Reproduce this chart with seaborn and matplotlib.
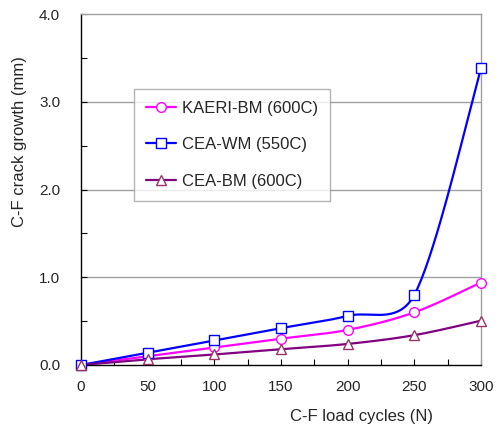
import numpy as np
import pandas as pd
import matplotlib
matplotlib.use("Agg")
import matplotlib.pyplot as plt
import seaborn as sns
from matplotlib.lines import Line2D
from matplotlib.ticker import MultipleLocator, FormatStrFormatter

# -----------------------------
# Data
# -----------------------------
cycles = [0, 50, 100, 150, 200, 250, 300]
kaeri_bm = [0.0, 0.10, 0.20, 0.30, 0.40, 0.60, 0.94]
cea_wm = [0.0, 0.14, 0.28, 0.42, 0.56, 0.80, 3.38]
cea_bm = [0.0, 0.065, 0.12, 0.18, 0.24, 0.34, 0.505]

series_names = ["KAERI-BM (600C)", "CEA-WM (550C)", "CEA-BM (600C)"]
series_values = [kaeri_bm, cea_wm, cea_bm]

line_colors = ["#FF00FF", "#0000FF", "#800080"]
marker_edges = ["#FF00FF", "#0000FF", "#993366"]
marker_shapes = ["o", "s", "^"]

# pixel scale of the plot area (for the spreadsheet-style smoothing)
PX_X = 400 / 300
PX_Y = 351 / 4


def smooth(xs, ys, n=40):
    # spreadsheet style smoothed line: cubic Bezier, control arms 1/6 of the
    # neighbour chord, capped to half the segment (distances in pixels)
    p = np.column_stack([np.asarray(xs, float) * PX_X, np.asarray(ys, float) * PX_Y])
    p = np.vstack([p[0], p, p[-1]])
    t = np.linspace(0, 1, n)[:, None]
    out = []
    for i in range(1, len(p) - 2):
        p0, p1, p2, p3 = p[i - 1], p[i], p[i + 1], p[i + 2]
        d12 = np.linalg.norm(p2 - p1)
        d02 = np.linalg.norm(p2 - p0)
        d13 = np.linalg.norm(p3 - p1)
        f1 = 1 / 6 if d02 / 6 <= d12 / 2 else d12 / (2 * d02)
        f2 = 1 / 6 if d13 / 6 <= d12 / 2 else d12 / (2 * d13)
        c1 = p1 + f1 * (p2 - p0)
        c2 = p2 - f2 * (p3 - p1)
        seg = ((1 - t) ** 3) * p1 + 3 * ((1 - t) ** 2) * t * c1 + 3 * (1 - t) * t**2 * c2 + t**3 * p2
        out.append(seg)
    out = np.vstack(out)
    return out[:, 0] / PX_X, out[:, 1] / PX_Y


sns.set_style("white")
plt.rcParams["font.family"] = ["Liberation Sans", "DejaVu Sans"]

fig = plt.figure(figsize=(4.99, 4.28), dpi=100)
ax = fig.add_axes([81 / 499, 1 - 365 / 428, 400 / 499, 351 / 428])

for y in [1, 2, 3]:
    ax.axhline(y, color="#A0A0A0", lw=1.0, zorder=0)

handles = []
for name, vals, lc, me, mk in zip(series_names, series_values, line_colors, marker_edges, marker_shapes):
    sx, sy = smooth(cycles, vals)
    sns.lineplot(x=sx, y=sy, ax=ax, color=lc, lw=1.6, sort=False, estimator=None, zorder=2)
    df = pd.DataFrame({"N": cycles, "crack": vals})
    ax.plot(df["N"], df["crack"], linestyle="none", marker=mk, markersize=7,
            markerfacecolor="white", markeredgecolor=me, markeredgewidth=1.0,
            clip_on=False, zorder=3)
    handles.append(Line2D([0], [0], color=lc, lw=1.6, marker=mk, markersize=7,
                          markerfacecolor="white", markeredgecolor=me, markeredgewidth=1.0))

ax.set_xlim(0, 300)
ax.set_ylim(0, 4)
ax.xaxis.set_major_locator(MultipleLocator(50))
ax.xaxis.set_minor_locator(MultipleLocator(25))
ax.yaxis.set_major_locator(MultipleLocator(1))
ax.yaxis.set_minor_locator(MultipleLocator(0.5))
ax.yaxis.set_major_formatter(FormatStrFormatter("%.1f"))
ax.tick_params(axis="both", which="both", direction="in", length=4, width=0.8,
               color="black", labelsize=11)
ax.tick_params(axis="x", which="both", bottom=True, pad=11)
ax.tick_params(axis="y", which="both", left=True, pad=15)

for side in ["left", "bottom"]:
    ax.spines[side].set_color("black")
    ax.spines[side].set_linewidth(1.0)
for side in ["top", "right"]:
    ax.spines[side].set_color("#A0A0A0")
    ax.spines[side].set_linewidth(1.0)

ax.set_xlabel("C-F load cycles (N)", fontsize=12, va="center")
ax.xaxis.set_label_coords((361 - 81) / 400, (365 - 416) / 351)
ax.set_ylabel("C-F crack growth (mm)", fontsize=12, va="center")
ax.yaxis.set_label_coords((20 - 81) / 400, (365 - 142) / 351)

leg = ax.legend(handles, series_names, loc="upper left", bbox_to_anchor=(53 / 400, (365 - 89) / 351),
                borderaxespad=0, frameon=True, fancybox=False, fontsize=12, handlelength=1.8,
                labelspacing=1.3, borderpad=0.7, handletextpad=0.4)
leg.get_frame().set_edgecolor("#A0A0A0")
leg.get_frame().set_linewidth(1.0)

fig.savefig("out.png", dpi=100)
